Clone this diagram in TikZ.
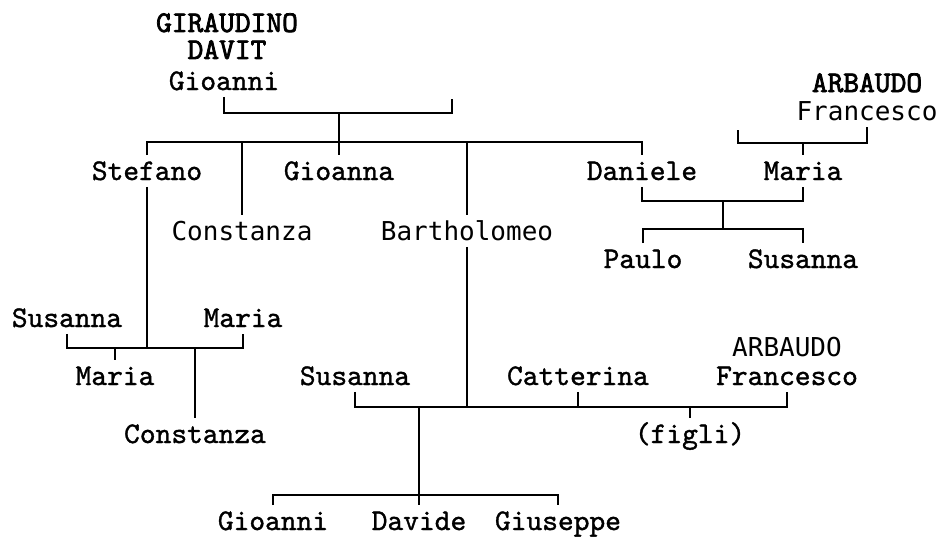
\documentclass[tikz,border=0pt]{standalone}
\usepackage{fontspec}
\newfontfamily\sansmono{DejaVu Sans Mono}
\newfontfamily\serifmono{lmmono10-regular.otf}[FakeBold=1.2]
\newfontfamily\capsmono{lmmono10-regular.otf}[FakeBold=2.5]
\tikzset{
  person/.style={anchor=base,inner xsep=0pt,inner ysep=6pt,text height=18pt,text depth=0pt,
    font=\serifmono\fontsize{30}{32}\selectfont},
  sansperson/.style={person,font=\sansmono\fontsize{26}{28}\selectfont},
  family/.style={person,inner ysep=1pt,font=\capsmono\fontsize{30}{32}\selectfont},
  familytwo/.style={anchor=south,inner sep=0pt,align=center,
    font=\capsmono\fontsize{30}{27}\selectfont},
}

\begin{document}
\begin{tikzpicture}[x=1pt,y=-1pt,line width=1.6pt]
    \useasboundingbox (0,0) rectangle (940,536);
    % --- Giraudino Davit and his children
    \node[familytwo] (giraudino) at (227,60) {GIRAUDINO\\DAVIT};
    \node[person] (gioanni) at (224,90) {Gioanni};
    \coordinate (gspouse) at (452,99);
    \coordinate (g0) at (339,113);
    \coordinate (sib) at (339,142);
    \draw (gioanni.south) |- (g0) -| (gspouse);
    \node[person] (stefano) at (147,180) {Stefano};
    \node[person] (gioanna) at (339,180) {Gioanna};
    \node[person] (daniele) at (642,180) {Daniele};
    \node[sansperson] (constanza) at (242,240) {Constanza};
    \node[sansperson] (bartholomeo) at (467,240) {Bartholomeo};
    \draw (stefano.north) -- (stefano.north |- sib) -- (daniele.north |- sib) -- (daniele.north);
    \draw (g0) -- (gioanna.north);
    \draw (constanza.north |- sib) -- (constanza.north);
    \draw (bartholomeo.north |- sib) -- (bartholomeo.north);
    % --- Arbaudo Francesco, Maria and Daniele
    \node[family] (arbaudo) at (867,92) {ARBAUDO};
    \node[sansperson] (francesco) at (867,120) {Francesco};
    \coordinate (aspouse) at (738,130);
    \coordinate (a0) at (803,143);
    \draw (aspouse) |- (a0) -| (francesco.south);
    \node[person] (maria) at (803,180) {Maria};
    \draw (a0) -- (maria.north);
    \node[person] (paulo) at (643,268) {Paulo};
    \node[person] (susanna) at (803,268) {Susanna};
    \coordinate (dm) at (723,201);
    \coordinate (dk) at (723,229);
    \draw (daniele.south) |- (dm) -| (maria.south);
    \draw (dm) -- (dk);
    \draw (paulo.north) |- (dk) -| (susanna.north);
    % --- Stefano and his two wives
    \node[person] (susannaS) at (67,327) {Susanna};
    \node[person] (mariaS) at (243,327) {Maria};
    \node[person] (mariaC) at (115,385) {Maria};
    \node[person] (constanzaC) at (195,443) {Constanza};
    \coordinate (sm) at (147,348);
    \draw (stefano.south) -- (sm);
    \draw (susannaS.south) -- (susannaS.south |- sm) -- (mariaS.south |- sm) -- (mariaS.south);
    \draw (mariaC.north |- sm) -- (mariaC.north);
    \draw (constanzaC.north |- sm) -- (constanzaC.north);
    % --- Bartholomeo and his wives
    \node[person] (susannaB) at (355,385) {Susanna};
    \node[person] (catterina) at (578,385) {Catterina};
    \node[sansperson] (arbaudoB) at (787,356) {ARBAUDO};
    \node[person] (francescoB) at (787,385) {Francesco};
    \node[person] (figli) at (690,443) {(figli)};
    \coordinate (bm) at (467,407);
    \draw (bartholomeo.south) -- (bm);
    \draw (susannaB.south) |- (bm) -| (francescoB.south);
    \draw (catterina.south) -- (catterina.south |- bm);
    \draw (figli.north |- bm) -- (figli.north);
    % --- children of Susanna
    \node[person] (gioanniB) at (273,530) {Gioanni};
    \node[person] (davide) at (419,530) {Davide};
    \node[person] (giuseppe) at (558,530) {Giuseppe};
    \coordinate (bk) at (419,495);
    \draw (bk |- bm) -- (bk);
    \draw (gioanniB.north) |- (bk) -| (giuseppe.north);
    \draw (bk) -- (davide.north);
\end{tikzpicture}
\end{document}
